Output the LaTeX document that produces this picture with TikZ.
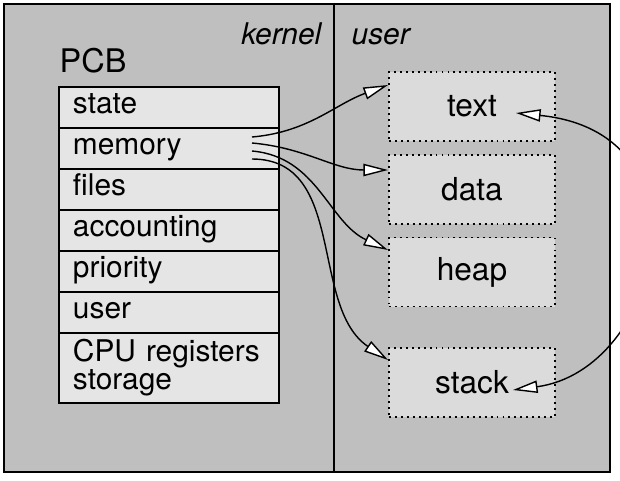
\documentclass[tikz,border=0pt]{standalone}
\usepackage{fontspec}
\setmainfont{TeX Gyre Heros}
\usetikzlibrary{arrows.meta, positioning}

\tikzset{
  pcbrow/.style={draw, line width=0.8pt, fill=black!10, outer sep=0pt,
    minimum height=0.82cm, text width=3.84cm, inner xsep=0.28cm, inner ysep=0pt,
    align=left, font=\fontsize{17}{16}\selectfont},
  oneline/.style={pcbrow, text height=0.82em, text depth=0.18em},
  membox/.style={draw, dash pattern=on 1.1pt off 2.3pt, line width=1.1pt, fill=black!14,
    minimum width=3.32cm, minimum height=1.38cm, font=\fontsize{18}{20}\selectfont},
  spacelabel/.style={inner sep=0pt, font=\fontsize{17}{20}\selectfont\itshape},
}

\begin{document}
\begin{tikzpicture}[>={Triangle[length=14pt, width=7pt, fill=white]}, line width=0.8pt]
\useasboundingbox (0,0) rectangle (12.4,-9.6);

% kernel / user halves
\draw[fill=black!25] (0.08,-0.08) rectangle (12.2,-9.44);
\draw (6.68,-0.08) -- (6.68,-9.44);
\node[spacelabel, anchor=base east] (kernel) at (6.44,-0.88) {kernel};
\node[spacelabel, anchor=base west] (user) at (7.02,-0.88) {user};

% the PCB
\node[inner sep=0pt, anchor=base west, font=\fontsize{18.5}{20}\selectfont] (pcb) at (1.18,-1.44) {PCB};
\node[oneline, anchor=north west] (state) at (1.18,-1.74) {state};
\node[oneline, below=0pt of state] (memory) {memory};
\node[oneline, below=0pt of memory] (files) {files};
\node[oneline, below=0pt of files] (accounting) {accounting};
\node[oneline, below=0pt of accounting] (priority) {priority};
\node[oneline, below=0pt of priority] (owner) {user};
\node[pcbrow, minimum height=1.4cm, below=0pt of owner] (cpu) {CPU registers\\storage};

% user address space
\node[membox] (txt) at (9.44,-2.13) {text};
\node[membox] (data) at (9.44,-3.79) {data};
\node[membox] (heap) at (9.44,-5.44) {heap};
\node[membox] (stack) at (9.44,-7.65) {stack};

\coordinate (m1) at ([xshift=-0.54cm, yshift=0.23cm]memory.east);
\coordinate (m2) at ([xshift=-0.54cm, yshift=0.11cm]memory.east);
\coordinate (m3) at ([xshift=-0.54cm, yshift=-0.05cm]memory.east);
\coordinate (m4) at ([xshift=-0.54cm, yshift=-0.21cm]memory.east);

\draw[->] (m1) to[out=5, in=200] ([yshift=0.43cm]txt.west);
\draw[->] (m2) to[out=-5, in=180] ([yshift=0.39cm]data.west);
\draw[->] (m3) to[out=-5, in=155] ([yshift=0.44cm]heap.west);
\draw[->] (m4) to[out=0, in=146] ([yshift=0.45cm]stack.west);

\draw[<->] ([xshift=-0.86cm, yshift=-0.15cm]stack.east)
  .. controls +(2.96,0.4) and +(4.0,-0.4) .. ([xshift=-0.8cm, yshift=-0.13cm]txt.east);
\end{tikzpicture}
\end{document}
